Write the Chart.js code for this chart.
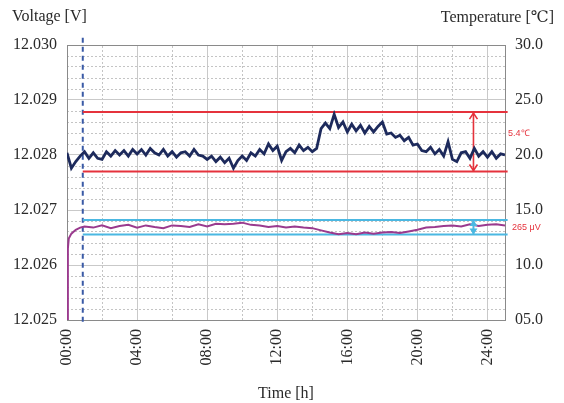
<!DOCTYPE html>
<html>
<head>
<meta charset="utf-8">
<script src="https://cdn.jsdelivr.net/npm/chart.js@4.4.1/dist/chart.umd.min.js"></script>
<style>
  html, body { margin: 0; padding: 0; background: #ffffff; }
  #wrap { position: relative; width: 564px; height: 403px; }
</style>
</head>
<body>
<div id="wrap"><canvas id="c" width="564" height="403"></canvas></div>
<script>
// ---------- data ----------
const tempTimes = [
  0, 0.25, 0.5, 0.75, 1, 1.25, 1.5, 1.75, 2, 2.25, 2.5, 2.75, 3, 3.25, 3.5, 3.75,
  4, 4.25, 4.5, 4.75, 5, 5.25, 5.5, 5.75, 6, 6.25, 6.5, 6.75, 7, 7.25, 7.5, 7.75,
  8, 8.25, 8.5, 8.75, 9, 9.25, 9.5, 9.75, 10, 10.25, 10.5, 10.75, 11, 11.25, 11.5, 11.75,
  12, 12.25, 12.5, 12.75, 13, 13.25, 13.5, 13.75, 14, 14.25, 14.5, 14.75, 15, 15.25, 15.5, 15.75,
  16, 16.25, 16.5, 16.75, 17, 17.25, 17.5, 17.75, 18, 18.25, 18.5, 18.75, 19, 19.25, 19.5, 19.75,
  20, 20.25, 20.5, 20.75, 21, 21.25, 21.5, 21.75, 22, 22.25, 22.5, 22.75, 23, 23.25, 23.5, 23.75,
  24, 24.25, 24.5, 24.75, 25
];
const tempValues = [
  20.2, 18.8, 19.4, 19.9,  20.3, 19.7, 20.2, 19.7,  19.6, 20.3, 19.9, 20.4,  20.0, 20.4, 19.9, 20.5,
  20.1, 20.5, 20.0, 20.6,  20.2, 20.0, 20.5, 19.9,  20.3, 19.8, 20.2, 20.3,  19.9, 20.5, 20.0, 19.9,
  19.6, 19.9, 19.4, 19.8,  19.3, 19.7, 18.8, 19.5,  19.9, 19.5, 20.2, 19.9,  20.5, 20.1, 21.0, 20.4,
  20.8, 19.5, 20.3, 20.6,  20.2, 20.9, 20.4, 20.7,  20.3, 20.6, 22.4, 22.9,  22.4, 23.7, 22.5, 23.0,
  22.1, 22.8, 22.2, 22.7,  22.0, 22.6, 22.1, 22.6,  23.0, 21.9, 22.0, 21.6,  21.8, 21.3, 21.6, 20.9,
  21.0, 20.4, 20.3, 20.7,  20.1, 20.5, 19.9, 21.2,  19.6, 19.4, 20.2, 20.3,  19.7, 20.6, 19.9, 20.3,
  19.8, 20.3, 19.7, 20.1,  20.0
];
const voltTimes = [
  0, 0.05, 0.1, 0.25, 0.5, 0.75, 1,
  1.5, 2, 2.5, 3, 3.5, 4, 4.5, 5, 5.5, 6, 6.5, 7, 7.5, 8, 8.5, 9, 9.5, 10,
  10.5, 11, 11.5, 12, 12.5, 13, 13.5, 14, 14.5, 15, 15.5, 16, 16.5, 17, 17.5, 18,
  18.5, 19, 19.5, 20, 20.5, 21, 21.5, 22, 22.5, 23, 23.5, 24, 24.5, 25
];
const voltValues = [
  12.02500, 12.02630, 12.02648, 12.02657, 12.02664, 12.02668, 12.02670,
  12.02668, 12.02672, 12.02667, 12.02671, 12.02673, 12.02668, 12.02672, 12.02669, 12.02667,
  12.02672, 12.02671, 12.02669, 12.02674, 12.02670, 12.02675, 12.02674, 12.02675, 12.02677,
  12.02673, 12.02672, 12.02669, 12.02671, 12.02668, 12.02670, 12.02668, 12.02667, 12.02663,
  12.02659, 12.02656, 12.02658, 12.02656, 12.02659, 12.02657, 12.02659, 12.02660, 12.02658,
  12.02661, 12.02664, 12.02668, 12.02669, 12.02671, 12.02672, 12.02670, 12.02674, 12.02671,
  12.02673, 12.02674, 12.02672
];
const tempBand = [23.9, 18.5];          // red limits [°C]
const voltBand = [12.02682, 12.026555]; // cyan limits [V]
const startHour = 0.9;                  // blue dashed marker
const arrowHour = 23.2;                 // position of the span arrows
const bandEndHour = 25.15;
const voltTicks = [12.025, 12.030, 0.001];
const tempTicks = [5, 30, 1];
const timeTicks = [0, 25, 4];
const tempLabel = '5.4℃';
const voltLabel = '265 μV';

// ---------- styles ----------
const NAVY = '#1d2a5c', PURPLE = '#9a3a8e', RED = '#e5323c', CYAN = '#4bb8e2', BLUE = '#3a5aa6';
const SERIF = "'Liberation Serif', 'DejaVu Serif', serif";
const GRID = '#c9c9c9', MINOR = '#c4c4c4', AXIS = '#8a8a8a';

const pts = (xs, ys) => xs.map((t, i) => ({ x: t, y: ys[i] }));

const overlay = {
  id: 'overlay',
  afterDatasetsDraw(chart) {
    const { ctx, scales } = chart;
    const ax = scales.x.getPixelForValue(arrowHour);
    const rt = scales.y1.getPixelForValue(tempBand[0]);
    const rb = scales.y1.getPixelForValue(tempBand[1]);
    ctx.save();
    ctx.strokeStyle = RED; ctx.lineWidth = 1.6;
    ctx.beginPath();
    ctx.moveTo(ax - 4, rt + 7); ctx.lineTo(ax, rt + 1); ctx.lineTo(ax + 4, rt + 7);
    ctx.moveTo(ax - 4, rb - 7); ctx.lineTo(ax, rb - 1); ctx.lineTo(ax + 4, rb - 7);
    ctx.stroke();
    const ct = scales.y.getPixelForValue(voltBand[0]);
    const cb = scales.y.getPixelForValue(voltBand[1]);
    ctx.fillStyle = CYAN;
    ctx.beginPath();
    ctx.moveTo(ax, ct); ctx.lineTo(ax - 4, ct + 6); ctx.lineTo(ax + 4, ct + 6); ctx.closePath();
    ctx.moveTo(ax, cb); ctx.lineTo(ax - 4, cb - 6); ctx.lineTo(ax + 4, cb - 6); ctx.closePath();
    ctx.fill();
    ctx.restore();
  },
  afterDraw(chart) {
    const { ctx, chartArea, scales } = chart;
    ctx.save();
    ctx.fillStyle = '#2a2a2a';
    ctx.font = '16px ' + SERIF;
    ctx.textBaseline = 'middle';
    ctx.textAlign = 'left';
    ctx.fillText('Voltage [V]', 12, 17);
    ctx.textAlign = 'right';
    ctx.fillText('Temperature [℃]', 554, 18);
    ctx.fillStyle = RED;
    ctx.font = "9px 'Liberation Sans', Arial, sans-serif";
    ctx.textAlign = 'left';
    const ym = scales.y1.getPixelForValue((tempBand[0] + tempBand[1]) / 2);
    ctx.fillText(tempLabel, chartArea.right + 3, ym - 8);
    const yv = scales.y.getPixelForValue((voltBand[0] + voltBand[1]) / 2);
    ctx.fillText(voltLabel, chartArea.right + 7, yv);
    ctx.restore();
  }
};

new Chart(document.getElementById('c'), {
  type: 'line',
  data: {
    datasets: [
      { label: 'Temperature', data: pts(tempTimes, tempValues), yAxisID: 'y1', borderColor: NAVY, borderWidth: 2.8, pointRadius: 0, tension: 0 },
      { label: 'Voltage', data: pts(voltTimes, voltValues), yAxisID: 'y', borderColor: PURPLE, borderWidth: 2, pointRadius: 0, tension: 0 },
      { label: 'T upper', data: [{ x: startHour, y: tempBand[0] }, { x: bandEndHour, y: tempBand[0] }], yAxisID: 'y1', borderColor: RED, borderWidth: 2, pointRadius: 0, clip: false },
      { label: 'T lower', data: [{ x: startHour, y: tempBand[1] }, { x: bandEndHour, y: tempBand[1] }], yAxisID: 'y1', borderColor: RED, borderWidth: 2, pointRadius: 0, clip: false },
      { label: 'V upper', data: [{ x: startHour, y: voltBand[0] }, { x: bandEndHour, y: voltBand[0] }], yAxisID: 'y', borderColor: CYAN, borderWidth: 2, pointRadius: 0, clip: false },
      { label: 'V lower', data: [{ x: startHour, y: voltBand[1] }, { x: bandEndHour, y: voltBand[1] }], yAxisID: 'y', borderColor: CYAN, borderWidth: 2, pointRadius: 0, clip: false },
      { label: 'start', data: [{ x: startHour, y: 12.03013 }, { x: startHour, y: 12.02491 }], yAxisID: 'y', borderColor: BLUE, borderWidth: 2, borderDash: [5, 4], pointRadius: 0, clip: false },
      { label: 'T span', data: [{ x: arrowHour, y: tempBand[0] }, { x: arrowHour, y: tempBand[1] }], yAxisID: 'y1', borderColor: RED, borderWidth: 1.6, pointRadius: 0 },
      { label: 'V span', data: [{ x: arrowHour, y: voltBand[0] }, { x: arrowHour, y: voltBand[1] }], yAxisID: 'y', borderColor: CYAN, borderWidth: 2, pointRadius: 0 }
    ]
  },
  options: {
    responsive: false,
    animation: false,
    events: [],
    layout: { padding: { top: 45, left: 0, right: 0, bottom: 0 } },
    plugins: { legend: { display: false }, tooltip: { enabled: false }, title: { display: false } },
    scales: {
      x: {
        type: 'linear', position: 'bottom', min: timeTicks[0], max: timeTicks[1],
        afterFit(s) { s.height = 83; },
        grid: { color: GRID, lineWidth: 1, drawTicks: false },
        border: { color: AXIS, width: 1 },
        ticks: {
          stepSize: timeTicks[2], includeBounds: false, autoSkip: false,
          minRotation: 90, maxRotation: 90, padding: 9,
          color: '#2a2a2a', font: { family: SERIF, size: 16 },
          callback: v => (v % 4 === 0 ? String(v).padStart(2, '0') + ':00' : '')
        },
        title: { display: true, text: 'Time [h]', color: '#2a2a2a', font: { family: SERIF, size: 16 }, padding: { top: 0, bottom: 0 } }
      },
      x2: {
        type: 'linear', position: 'top', min: timeTicks[0], max: timeTicks[1],
        afterFit(s) { s.height = 0; },
        grid: { color: c => (c.tick && c.tick.value % 4 === 0 ? 'rgba(0,0,0,0)' : MINOR), lineWidth: 1, drawTicks: false },
        border: { color: AXIS, width: 1, dash: [2, 2] },
        ticks: { display: false, stepSize: 2, includeBounds: false, autoSkip: false }
      },
      y: {
        type: 'linear', position: 'left', min: voltTicks[0], max: voltTicks[1],
        afterFit(s) { s.width = 67; },
        grid: { color: GRID, lineWidth: 1, drawTicks: false },
        border: { color: AXIS, width: 1 },
        ticks: { stepSize: voltTicks[2], padding: 10, autoSkip: false, color: '#2a2a2a', font: { family: SERIF, size: 16 }, callback: v => Number(v).toFixed(3) }
      },
      y1: {
        type: 'linear', position: 'right', min: tempTicks[0], max: tempTicks[1],
        afterFit(s) { s.width = 59; },
        grid: { color: c => (c.tick && c.tick.value % 5 === 0 ? 'rgba(0,0,0,0)' : MINOR), lineWidth: 1, drawTicks: false },
        border: { color: AXIS, width: 1, dash: [2, 2] },
        ticks: {
          stepSize: tempTicks[2], padding: 10, autoSkip: false, color: '#2a2a2a', font: { family: SERIF, size: 16 },
          callback: v => (v % 5 === 0 ? (v < 10 ? '0' : '') + Number(v).toFixed(1) : '')
        }
      }
    }
  },
  plugins: [overlay]
});
</script>
</body>
</html>
